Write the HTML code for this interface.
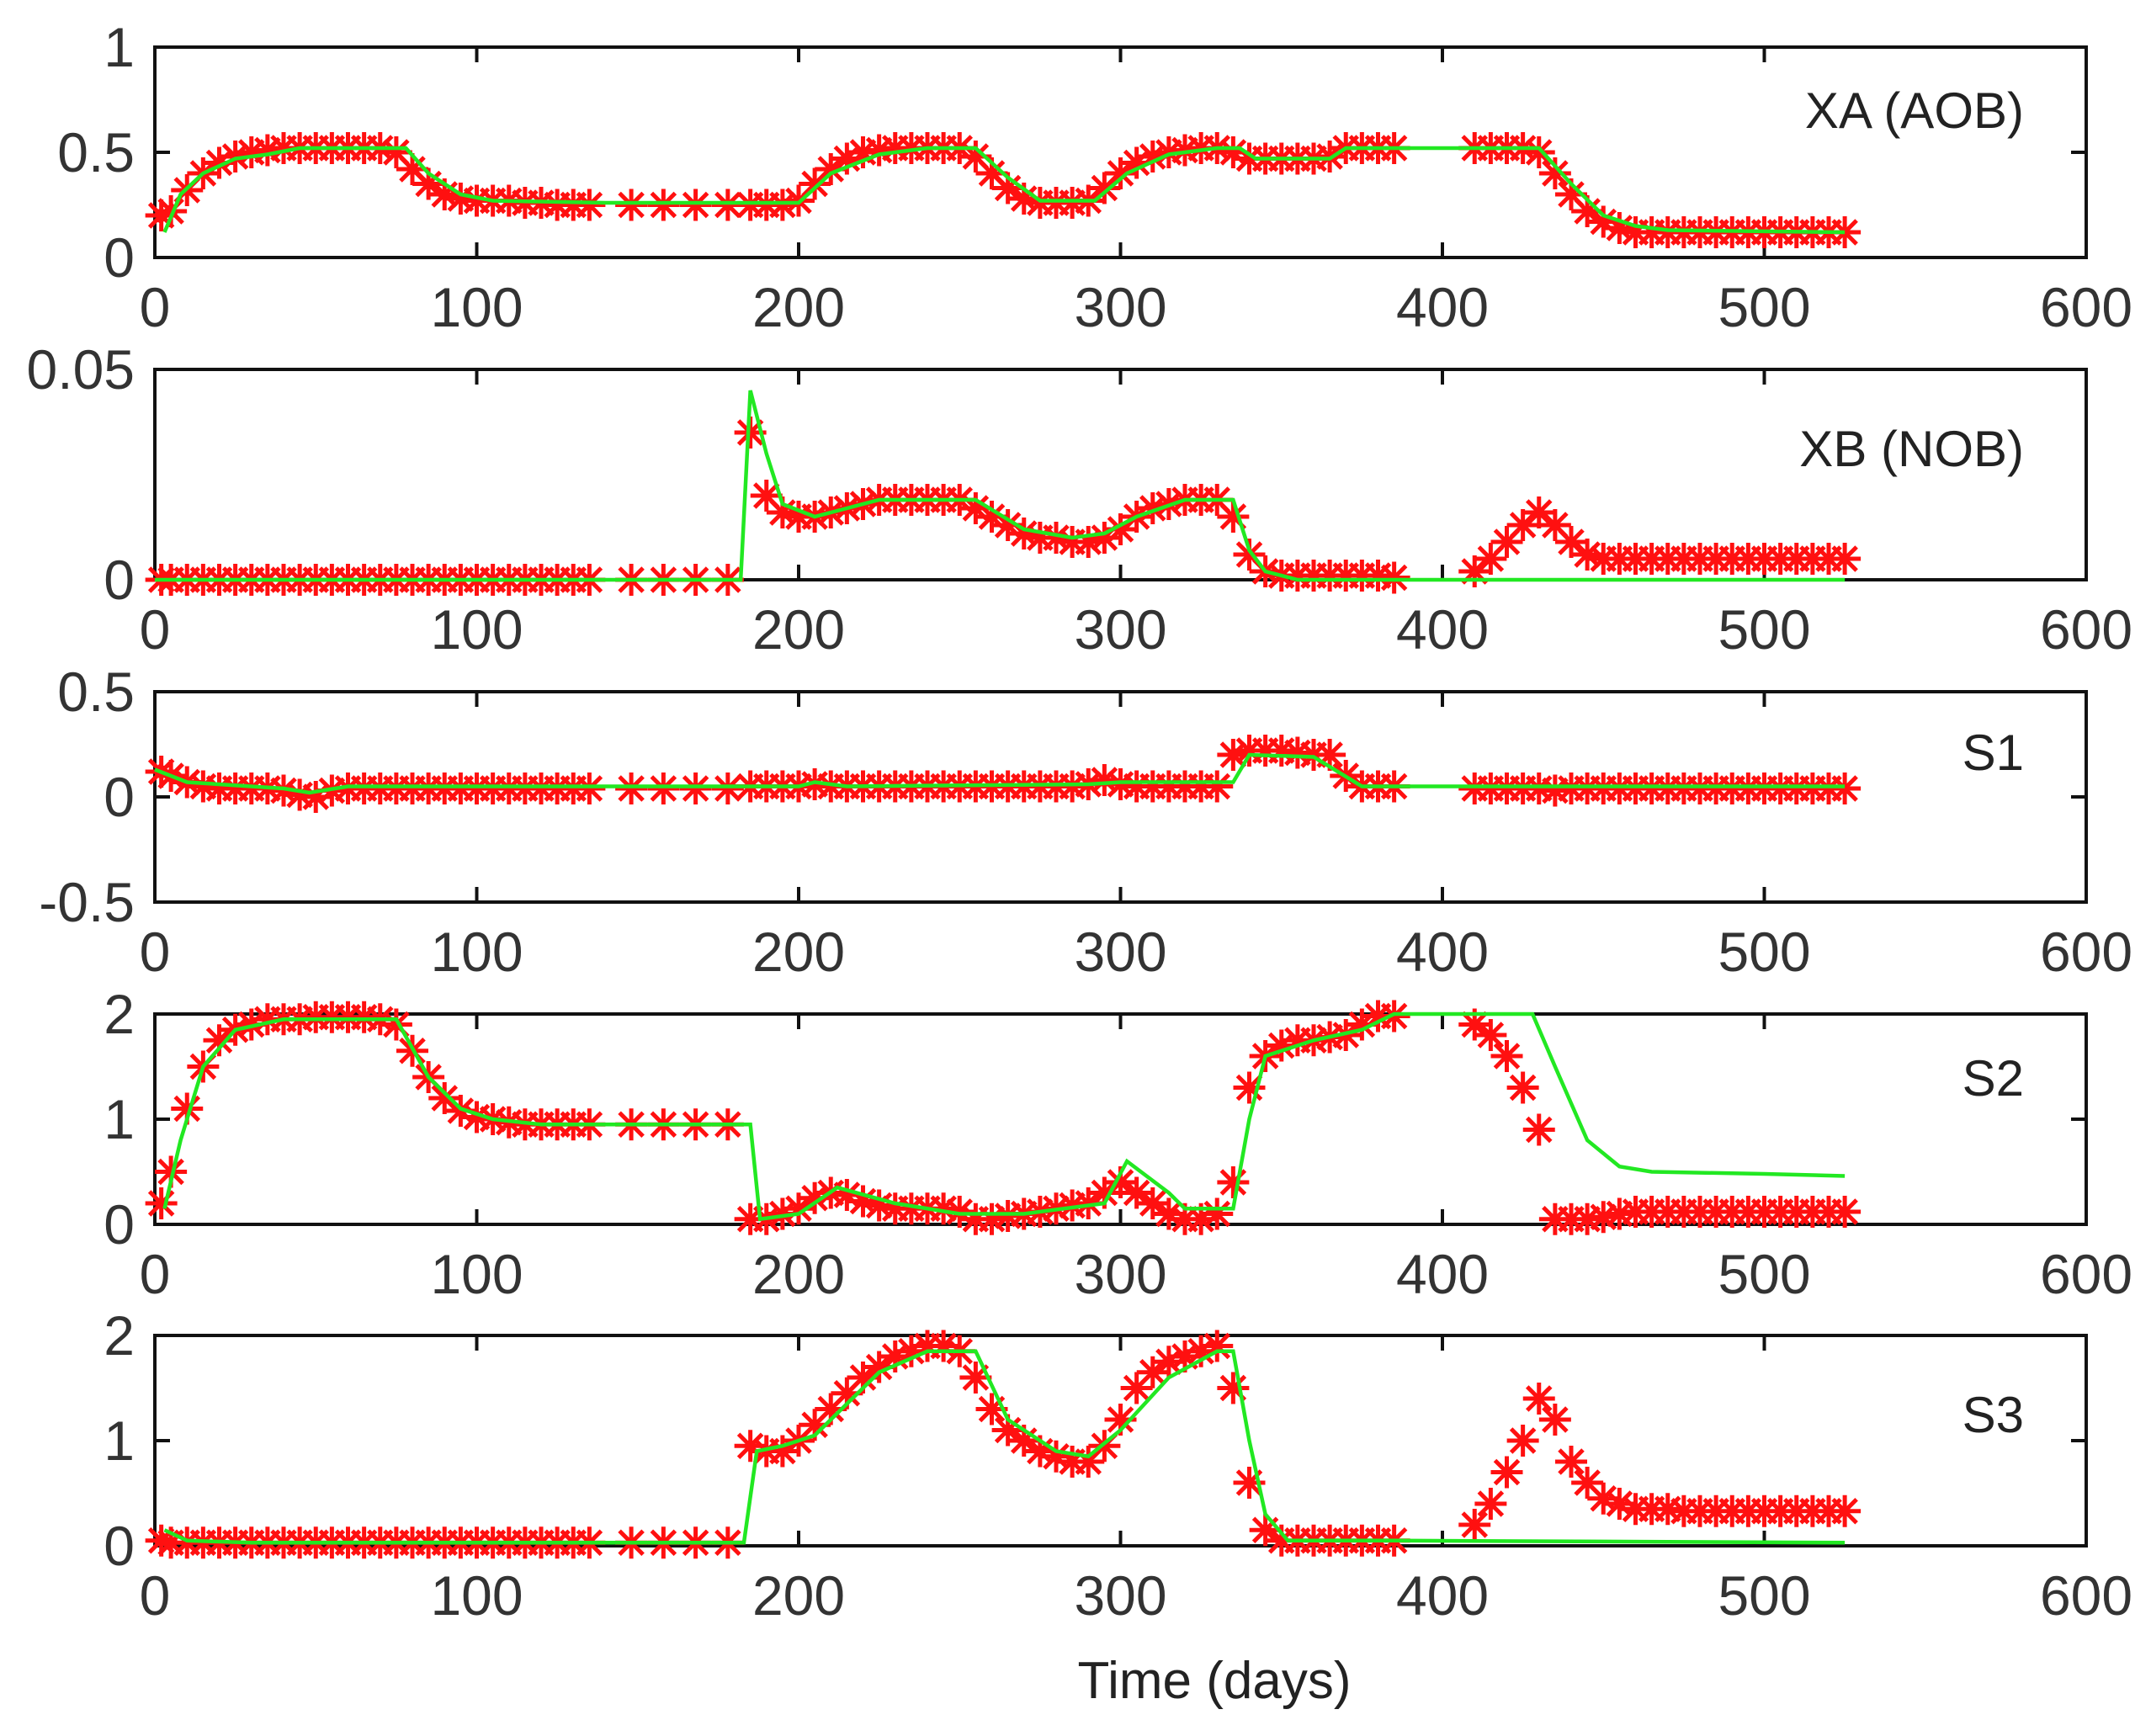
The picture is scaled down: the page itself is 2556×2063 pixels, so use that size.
<!DOCTYPE html>
<html><head><meta charset="utf-8"><style>
html,body{margin:0;padding:0;background:#fff;}
svg{display:block;}
text{font-family:"Liberation Sans",sans-serif;}
</style></head><body>
<svg id="chart" width="2556" height="2063" viewBox="0 0 2556 2063" xmlns="http://www.w3.org/2000/svg"></svg>
<script>
// ---- data ----
const measTimes = [2,5,10,15,20,25,30,35,40,45,50,55,60,65,70,75,80,85,90,95,100,105,110,115,120,125,130,135,
148,158,168,178,
185,190,195,200,205,210,215,220,225,230,235,240,245,250,255,260,265,270,275,280,285,290,295,300,305,310,315,320,325,330,335,340,345,350,355,360,365,370,375,380,385,
410,415,420,425,430,435,440,445,450,455,460,465,470,475,480,485,490,495,500,505,510,515,520,525];
const xTicks = [0,100,200,300,400,500,600];

const xaMeas = [0.2,0.22,0.32,0.4,0.45,0.48,0.5,0.51,0.52,0.52,0.52,0.52,0.52,0.52,0.52,0.5,0.42,0.35,0.3,0.28,0.27,0.27,0.27,0.26,0.26,0.25,0.25,0.25,
0.25,0.25,0.25,0.25,
0.25,0.25,0.25,0.27,0.35,0.42,0.47,0.5,0.51,0.52,0.52,0.52,0.52,0.52,0.48,0.4,0.33,0.28,0.26,0.26,0.26,0.27,0.33,0.4,0.45,0.48,0.5,0.51,0.52,0.52,0.5,0.47,0.47,0.47,0.47,0.47,0.48,0.52,0.52,0.52,0.52,
0.52,0.52,0.52,0.52,0.5,0.4,0.3,0.22,0.17,0.14,0.12,0.12,0.12,0.12,0.12,0.12,0.12,0.12,0.12,0.12,0.12,0.12,0.12,0.12];
const xaModelT = [3,8,15,25,35,45,78,85,95,105,140,200,210,225,240,255,265,275,292,302,315,330,337,342,365,370,430,440,450,460,470,525];
const xaModelY = [0.12,0.3,0.4,0.47,0.49,0.52,0.52,0.4,0.3,0.27,0.26,0.26,0.4,0.49,0.52,0.52,0.38,0.27,0.27,0.4,0.49,0.52,0.52,0.47,0.47,0.52,0.52,0.35,0.2,0.15,0.13,0.12];

const xbMeas = [0,0,0,0,0,0,0,0,0,0,0,0,0,0,0,0,0,0,0,0,0,0,0,0,0,0,0,0,
0,0,0,0,
0.035,0.02,0.016,0.015,0.015,0.016,0.017,0.018,0.019,0.019,0.019,0.019,0.019,0.019,0.017,0.015,0.013,0.011,0.01,0.01,0.009,0.009,0.01,0.012,0.015,0.017,0.018,0.019,0.019,0.019,0.015,0.006,0.002,0.001,0.001,0.001,0.001,0.001,0.001,0.001,0.0005,
0.002,0.005,0.009,0.013,0.016,0.013,0.009,0.006,0.005,0.005,0.005,0.005,0.005,0.005,0.005,0.005,0.005,0.005,0.005,0.005,0.005,0.005,0.005,0.005];
const xbModelT = [0,182,185,190,195,205,215,225,255,270,285,295,305,320,335,340,345,355,525];
const xbModelY = [0,0,0.045,0.03,0.018,0.015,0.017,0.019,0.019,0.012,0.01,0.011,0.015,0.019,0.019,0.007,0.002,0,0];

const s1Meas = [0.12,0.1,0.07,0.05,0.04,0.04,0.04,0.04,0.03,0.01,0.0,0.03,0.04,0.04,0.04,0.04,0.04,0.04,0.04,0.04,0.04,0.04,0.04,0.04,0.04,0.04,0.04,0.04,
0.04,0.04,0.04,0.04,
0.05,0.05,0.05,0.05,0.06,0.05,0.05,0.05,0.05,0.05,0.05,0.05,0.05,0.05,0.05,0.05,0.05,0.05,0.05,0.05,0.05,0.06,0.08,0.06,0.05,0.05,0.05,0.05,0.05,0.05,0.2,0.22,0.22,0.22,0.21,0.2,0.2,0.1,0.05,0.05,0.05,
0.04,0.04,0.04,0.04,0.04,0.03,0.04,0.04,0.04,0.04,0.04,0.04,0.04,0.04,0.04,0.04,0.04,0.04,0.04,0.04,0.04,0.04,0.04,0.04];
const s1ModelT = [0,10,30,40,48,60,200,205,215,290,300,335,340,360,375,525];
const s1ModelY = [0.13,0.07,0.05,0.04,0.02,0.05,0.05,0.07,0.05,0.06,0.07,0.07,0.2,0.19,0.05,0.05];

const s2Meas = [0.2,0.5,1.1,1.5,1.75,1.85,1.9,1.95,1.95,1.95,1.97,1.97,1.97,1.97,1.95,1.9,1.65,1.4,1.2,1.08,1.02,1.0,0.97,0.95,0.95,0.95,0.95,0.95,
0.95,0.95,0.95,0.95,
0.05,0.05,0.1,0.15,0.25,0.3,0.28,0.22,0.18,0.15,0.15,0.15,0.15,0.12,0.05,0.05,0.08,0.1,0.12,0.15,0.18,0.2,0.3,0.4,0.3,0.2,0.1,0.05,0.05,0.1,0.4,1.3,1.6,1.7,1.75,1.75,1.78,1.8,1.9,1.98,1.98,
1.9,1.8,1.6,1.3,0.9,0.05,0.05,0.05,0.07,0.1,0.12,0.12,0.12,0.12,0.12,0.12,0.12,0.12,0.12,0.12,0.12,0.12,0.12,0.12];
const s2ModelT = [3,8,15,25,40,75,85,95,105,120,185,188,200,212,230,250,270,295,302,315,320,335,340,345,360,375,385,428,435,445,455,465,500,525];
const s2ModelY = [0.15,0.8,1.5,1.85,1.95,1.95,1.4,1.1,1.0,0.95,0.95,0.05,0.1,0.35,0.2,0.1,0.1,0.2,0.6,0.3,0.15,0.15,1.0,1.6,1.75,1.85,2.0,2.0,1.5,0.8,0.55,0.5,0.48,0.46];

const s3Meas = [0.05,0.03,0.03,0.03,0.03,0.03,0.03,0.03,0.03,0.03,0.03,0.03,0.03,0.03,0.03,0.03,0.03,0.03,0.03,0.03,0.03,0.03,0.03,0.03,0.03,0.03,0.03,0.03,
0.03,0.03,0.03,0.03,
0.95,0.9,0.9,1.0,1.15,1.3,1.45,1.6,1.7,1.8,1.85,1.9,1.9,1.85,1.6,1.3,1.1,1.0,0.9,0.85,0.8,0.8,0.95,1.2,1.5,1.65,1.75,1.8,1.85,1.9,1.5,0.6,0.15,0.05,0.05,0.05,0.05,0.05,0.05,0.05,0.05,
0.2,0.4,0.7,1.0,1.4,1.2,0.8,0.6,0.45,0.4,0.35,0.35,0.35,0.33,0.33,0.33,0.33,0.33,0.33,0.33,0.33,0.33,0.33,0.33];
const s3ModelT = [3,10,30,183,187,195,205,225,240,255,265,280,290,300,315,330,335,340,345,352,385,525];
const s3ModelY = [0.15,0.05,0.03,0.03,0.9,0.95,1.05,1.65,1.85,1.85,1.2,0.9,0.85,1.1,1.6,1.85,1.85,1.0,0.3,0.05,0.05,0.03];

const panelTitles = ["XA (AOB)","XB (NOB)","S1","S2","S3"];
const yTickLabels = [["0","0.5","1"],["0","0.05"],["-0.5","0","0.5"],["0","1","2"],["0","1","2"]];
const yTickVals = [[0,0.5,1],[0,0.05],[-0.5,0,0.5],[0,1,2],[0,1,2]];
const yRanges = [[0,1],[0,0.05],[-0.5,0.5],[0,2],[0,2]];

// ---- layout ----
const NS="http://www.w3.org/2000/svg";
const svg=document.getElementById('chart');
const L=184,R=2479,H=250;
const tops=[56,439,822,1205,1587];
const titleY=[130,532,893,1280,1680];
function mk(tag,attrs,parent){const e=document.createElementNS(NS,tag);for(const k in attrs)e.setAttribute(k,attrs[k]);(parent||svg).appendChild(e);return e;}
const xs=v=>L+(v-0)/(600-0)*(R-L);

const meas=[xaMeas,xbMeas,s1Meas,s2Meas,s3Meas];
const modT=[xaModelT,xbModelT,s1ModelT,s2ModelT,s3ModelT];
const modY=[xaModelY,xbModelY,s1ModelY,s2ModelY,s3ModelY];
const names=["xa","xb","s1","s2","s3"];

for(let p=0;p<5;p++){
  const top=tops[p],bot=top+H;
  const [y0,y1]=yRanges[p];
  const ys=v=>bot-(v-y0)/(y1-y0)*H;
  const g=mk('g',{});
  
  
  const box=mk('rect',{x:L,y:top,width:R-L,height:H,fill:'#fff',stroke:'#111','stroke-width':4},g);
  
  
  xTicks.forEach(t=>{
    const x=xs(t);
    mk('line',{x1:x,y1:bot,x2:x,y2:bot-18,stroke:'#111','stroke-width':4},g);
    mk('line',{x1:x,y1:top,x2:x,y2:top+18,stroke:'#111','stroke-width':4},g);
    const tx=mk('text',{x:x,y:bot+82,'text-anchor':'middle','font-size':66,fill:'#333'},g);
    tx.textContent=t;
    
    
  });
  yTickVals[p].forEach((v,i)=>{
    const y=ys(v);
    mk('line',{x1:L,y1:y,x2:L+18,y2:y,stroke:'#111','stroke-width':4},g);
    mk('line',{x1:R,y1:y,x2:R-18,y2:y,stroke:'#111','stroke-width':4},g);
    const tx=mk('text',{x:160,y:y+23,'text-anchor':'end','font-size':66,fill:'#333'},g);
    tx.textContent=yTickLabels[p][i];
    
    
  });
  const sg=mk('g',{stroke:'#ff1010','stroke-width':5},g);
  
  
  const r=19,d=14;
  let dstr='';
  measTimes.forEach((t,i)=>{
    const x=xs(t),y=ys(meas[p][i]);
    dstr+=`M${x-r},${y}H${x+r}M${x},${y-r}V${y+r}M${x-d},${y-d}L${x+d},${y+d}M${x-d},${y+d}L${x+d},${y-d}`;
  });
  const sp=mk('path',{d:dstr,fill:'none'},sg);
  
  
  const pts=modT[p].map((t,i)=>xs(t)+','+ys(modY[p][i])).join(' ');
  const ml=mk('polyline',{points:pts,fill:'none',stroke:'#22e822','stroke-width':4.5},g);
  
  
  const tt=mk('text',{x:2405,y:titleY[p]+22,'text-anchor':'end','font-size':60,fill:'#222'},g);
  tt.textContent=panelTitles[p];
  
  
}
const xl=mk('text',{x:1443,y:2018,'text-anchor':'middle','font-size':62,fill:'#222'});
xl.textContent='Time (days)';


</script>
</body></html>
